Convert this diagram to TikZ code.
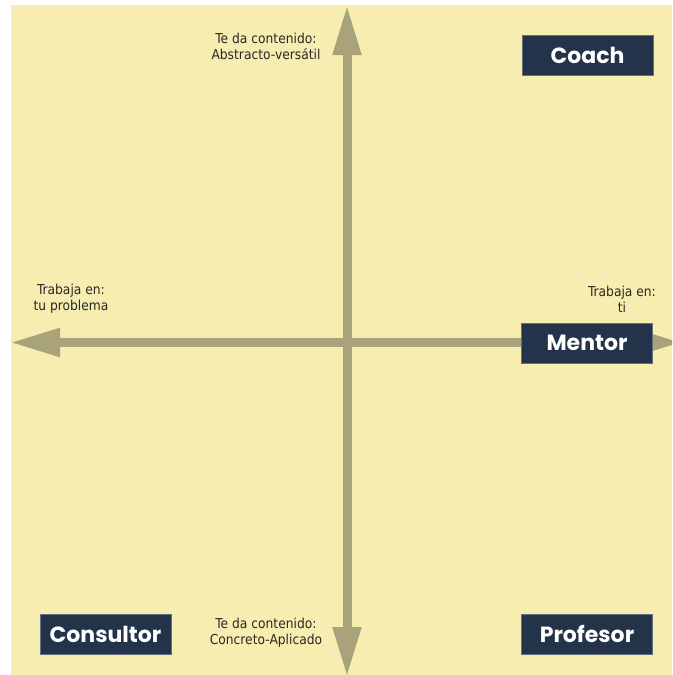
\documentclass[tikz,border=0pt]{standalone}
\usepackage{fontspec}
\usetikzlibrary{arrows.meta}
\newfontfamily\boxfont{Poppins}
\newfontfamily\labelfont{DejaVu Sans Condensed}
\definecolor{paper}{RGB}{248,237,176}
\definecolor{axisline}{RGB}{168,163,123}
\definecolor{navy}{RGB}{34,51,74}
\definecolor{ink}{RGB}{40,40,40}

\begin{document}
\begin{tikzpicture}[
x=0.75pt,y=-0.75pt,
axis/.style={
  draw=axisline,
  line width=6.75pt,
  {Triangle[length=37.5pt,width=20pt]}-{Triangle[length=37.5pt,width=20pt]}
},
role/.style={
  draw=navy!70!white,
  fill=navy,
  text=white,
  line width=0.4pt,
  minimum width=98.25pt,
  minimum height=30pt,
  inner sep=0pt,
  font=\boxfont\bfseries\fontsize{16.5}{20}\selectfont
},
hint/.style={
  text=ink,
  align=center,
  inner sep=0pt,
  font=\labelfont\fontsize{10.25}{12}\selectfont
}
]
\useasboundingbox (0,0) rectangle (672,675);
\fill[paper] (11,5) rectangle (672,675);

% ends of the axes
\coordinate (top) at (347,5);
\coordinate (bottom) at (347,677);
\coordinate (left) at (10,342.5);
\coordinate (right) at (682,342.5);

\begin{scope}
\clip (0,0) rectangle (672,675);
\draw[axis] (bottom) -- (top);
\draw[axis] (left) -- (right);
\end{scope}

\node[hint] (abstract) at (266,46) {Te da contenido:\\Abstracto-versátil};
\node[hint] (concrete) at (266,633) {Te da contenido:\\Concreto-Aplicado};
\node[hint] (problem) at (71,298.5) {Trabaja en:\\tu problema};
\node[hint] (you) at (622,299.5) {Trabaja en:\\ti};

\node[role] (coach) at (587.5,55) {Coach};
\node[role] (mentor) at (587,343) {Mentor};
\node[role] (consultor) at (105.5,634) {Consultor};
\node[role] (profesor) at (587,634) {Profesor};
\end{tikzpicture}
\end{document}
